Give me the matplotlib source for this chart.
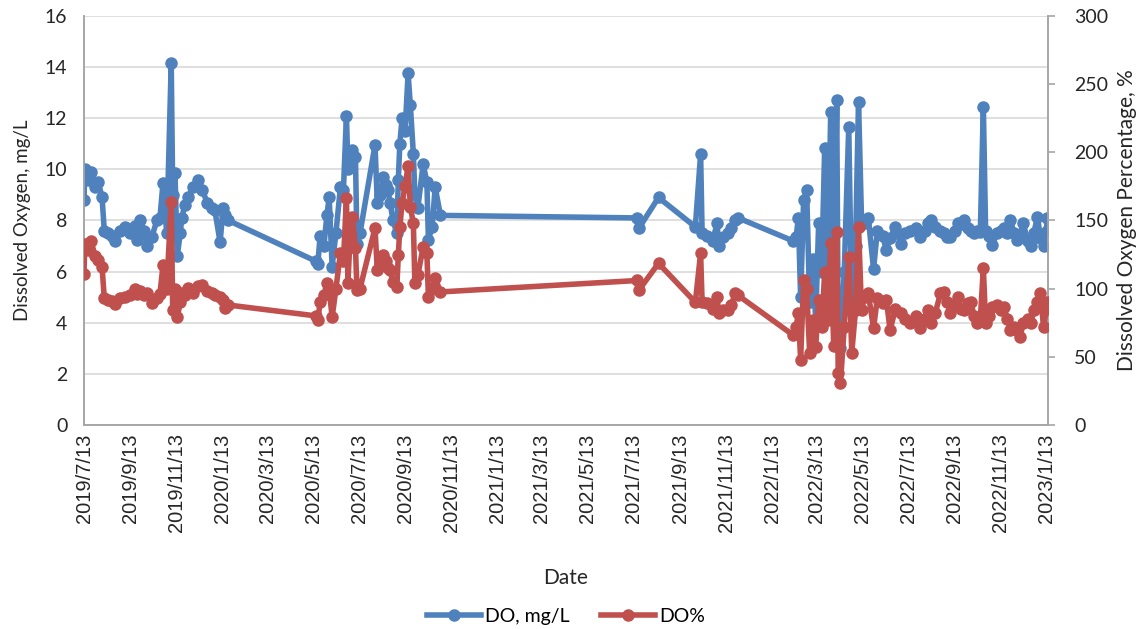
import datetime as dt
import matplotlib
matplotlib.use("Agg")
import matplotlib.pyplot as plt
import matplotlib.dates as mdates
from matplotlib.ticker import FuncFormatter
from matplotlib.lines import Line2D

# sampling dates and readings
dates = [
    "2019-07-13", "2019-07-14", "2019-07-18", "2019-07-22", "2019-07-28", "2019-08-01",
    "2019-08-06", "2019-08-09", "2019-08-14", "2019-08-19", "2019-08-23", "2019-08-30",
    "2019-09-06", "2019-09-12", "2019-09-19", "2019-09-21", "2019-09-25", "2019-10-01",
    "2019-10-05", "2019-10-11", "2019-10-18", "2019-10-22", "2019-10-26", "2019-10-31",
    "2019-11-06", "2019-11-08", "2019-11-11", "2019-11-14", "2019-11-18", "2019-11-20",
    "2019-11-24", "2019-11-28", "2019-12-05", "2019-12-12", "2019-12-17", "2019-12-24",
    "2019-12-30", "2020-01-03", "2020-01-10", "2020-01-14", "2020-01-17", "2020-01-21",
    "2020-05-17", "2020-05-19", "2020-05-22", "2020-05-27", "2020-05-31", "2020-06-03",
    "2020-06-07", "2020-06-12", "2020-06-18", "2020-06-22", "2020-06-26", "2020-06-28",
    "2020-07-01", "2020-07-04", "2020-07-08", "2020-07-10", "2020-07-14", "2020-08-03",
    "2020-08-06", "2020-08-10", "2020-08-14", "2020-08-18", "2020-08-20", "2020-08-23",
    "2020-08-27", "2020-09-01", "2020-09-03", "2020-09-05", "2020-09-08", "2020-09-12",
    "2020-09-16", "2020-09-19", "2020-09-23", "2020-09-25", "2020-09-29", "2020-10-06",
    "2020-10-11", "2020-10-13", "2020-10-18", "2020-10-22", "2020-10-29",
    "2021-07-18", "2021-07-20", "2021-08-15", "2021-10-03", "2021-10-10", "2021-10-12",
    "2021-10-19", "2021-10-26", "2021-11-01", "2021-11-03", "2021-11-09", "2021-11-16",
    "2021-11-20", "2021-11-25", "2021-11-29",
    "2022-02-10", "2022-02-14", "2022-02-17", "2022-02-20", "2022-02-24", "2022-02-28",
    "2022-03-04", "2022-03-08", "2022-03-12", "2022-03-16", "2022-03-20", "2022-03-24",
    "2022-03-28", "2022-04-01", "2022-04-05", "2022-04-09", "2022-04-11", "2022-04-14",
    "2022-04-19", "2022-04-25", "2022-04-29", "2022-05-04", "2022-05-08", "2022-05-12",
    "2022-05-16", "2022-05-21", "2022-05-28", "2022-06-02", "2022-06-09", "2022-06-14",
    "2022-06-19", "2022-06-26", "2022-07-03", "2022-07-09", "2022-07-16", "2022-07-23",
    "2022-07-29", "2022-08-04", "2022-08-08", "2022-08-13", "2022-08-18", "2022-08-25",
    "2022-08-30", "2022-09-03", "2022-09-07", "2022-09-13", "2022-09-17", "2022-09-21",
    "2022-09-25", "2022-09-30", "2022-10-04", "2022-10-09", "2022-10-13", "2022-10-17",
    "2022-10-21", "2022-10-24", "2022-10-29", "2022-11-02", "2022-11-08", "2022-11-13",
    "2022-11-17", "2022-11-22", "2022-11-26", "2022-12-01", "2022-12-05", "2022-12-09",
    "2022-12-13", "2022-12-19", "2022-12-23", "2022-12-27", "2023-01-01", "2023-01-05",
    "2023-01-09", "2023-01-13", "2023-01-14",
]

do_mgl = [
    8.8, 10.0, 9.6, 9.9, 9.3, 9.5,
    8.9, 7.6, 7.5, 7.4, 7.2, 7.6,
    7.75, 7.5, 7.8, 7.25, 8.0, 7.6,
    7.0, 7.35, 8.0, 8.1, 9.45, 7.5,
    14.15, 9.0, 9.85, 6.6, 7.5, 8.1,
    8.6, 8.9, 9.3, 9.6, 9.2, 8.7,
    8.5, 8.4, 7.15, 8.5, 8.2, 8.0,
    6.4, 6.3, 7.4, 7.0, 8.2, 8.9,
    6.2, 7.5, 9.3, 9.2, 12.1, 10.0,
    10.4, 10.75, 10.5, 7.1, 7.5, 10.95,
    8.7, 9.0, 9.7, 9.4, 9.2, 8.7,
    8.0, 7.5, 9.6, 11.0, 12.0, 11.5,
    13.75, 12.5, 10.6, 9.0, 8.5, 10.2,
    9.5, 7.25, 7.75, 9.3, 8.2,
    8.1, 7.7, 8.9, 7.75, 10.6, 7.5,
    7.4, 7.2, 7.9, 7.0, 7.35, 7.5,
    7.7, 8.0, 8.1,
    7.2, 7.35, 8.1, 5.0, 8.8, 9.2,
    4.8, 6.5, 4.1, 7.9, 6.0, 10.85,
    5.5, 12.25, 4.4, 12.7, 3.4, 3.0,
    6.0, 11.65, 4.5, 7.0, 12.65, 8.0,
    7.9, 8.1, 6.1, 7.6, 7.4, 6.85,
    7.3, 7.75, 7.1, 7.5, 7.6, 7.7,
    7.35, 7.6, 7.9, 8.0, 7.75, 7.6,
    7.5, 7.35, 7.35, 7.6, 7.9, 7.85,
    8.0, 7.7, 7.6, 7.5, 7.6, 7.55,
    12.45, 7.6, 7.4, 7.05, 7.5, 7.6,
    7.7, 7.5, 8.0, 7.5, 7.25, 7.45,
    7.9, 7.2, 7.0, 7.5, 8.15, 7.3,
    7.0, 7.6, 8.1,
]

do_pct = [
    111, 133, 128, 135, 124, 121,
    116, 93, 92, 91, 89, 93,
    94, 95, 100, 96, 98, 95,
    97, 89.5, 93, 96, 117, 100,
    163.6, 84, 100, 79, 90, 97,
    95, 100.5, 97, 102, 102.7, 98,
    97, 95, 94, 92, 86, 88,
    80, 77, 90, 95, 104, 100,
    79, 100, 126, 120, 166.5, 104,
    140, 152.6, 130, 99, 100, 144.5,
    114, 118, 124.7, 120, 115, 113.7,
    105, 101, 124.7, 145, 163, 175,
    190, 160, 148, 104, 110, 130.6,
    126, 94, 100, 108, 97.6,
    106, 99, 118.6, 90, 126, 90,
    89.5, 85, 94, 82, 84, 84,
    88, 97, 95,
    66, 72, 82, 48, 106, 100,
    53, 77, 57, 92, 72, 112,
    77, 133.5, 58, 141.6, 38, 31,
    72, 123, 53, 84, 145, 84,
    94, 96.5, 71, 93, 89.5, 91.7,
    69.7, 85, 82, 78, 75, 80,
    71, 78, 84, 75, 82, 96.5,
    97.6, 90, 82, 88, 94, 85,
    84, 89.5, 90, 80, 75, 78,
    115, 75, 80, 86.6, 88, 84,
    86.6, 78, 69.7, 72, 70, 64.6,
    75, 78, 75, 84, 90, 96.5,
    72, 85, 90,
]

x = [dt.datetime.strptime(d, "%Y-%m-%d") for d in dates]

blue = "#4F81BD"
red = "#C0504D"
grid_c = "#D9D9D9"
spine_c = "#A6A6A6"
text_c = "#262626"
lab_font = "Lato"

fig = plt.figure(figsize=(11.46, 6.29), dpi=100)
ax = fig.add_axes([0.0733, 0.3243, 0.8412, 0.6503])
ax2 = ax.twinx()

ax.plot(x, do_mgl, color=blue, lw=4, marker="o", ms=8, label="DO, mg/L", zorder=3)
ax2.plot(x, do_pct, color=red, lw=4, marker="o", ms=8, label="DO%", zorder=3)

ax.set_ylim(0, 16)
ax.set_yticks(range(0, 17, 2))
ax2.set_ylim(0, 300)
ax2.set_yticks(range(0, 301, 50))
ax.set_xlim(dt.datetime(2019, 7, 13), dt.datetime(2023, 1, 15))

ax.xaxis.set_major_locator(mdates.MonthLocator(bymonth=[1, 3, 5, 7, 9, 11], bymonthday=13))


def fmt_date(v, pos):
    d = mdates.num2date(v)
    return "{0}/{1}/{2}".format(d.year, d.month, d.day)


ax.xaxis.set_major_formatter(FuncFormatter(fmt_date))

ax.grid(axis="y", color=grid_c, lw=1.2)
ax.set_axisbelow(True)

for a in (ax, ax2):
    a.spines["top"].set_visible(False)
    for s in ("left", "right", "bottom"):
        a.spines[s].set_color(spine_c)
        a.spines[s].set_linewidth(1.2)

ax.tick_params(axis="y", length=0, pad=12, labelsize=14, labelcolor=text_c)
ax.tick_params(axis="x", length=0, pad=6, labelsize=14.5, labelcolor=text_c, labelrotation=90)
ax2.tick_params(axis="y", length=5, color=spine_c, width=1.2, pad=14, labelsize=14, labelcolor=text_c)

for lab in ax.get_yticklabels() + ax2.get_yticklabels():
    lab.set_fontfamily(lab_font)
for lab in ax.get_xticklabels():
    lab.set_fontfamily("Liberation Sans")

ax.set_ylabel("Dissolved Oxygen, mg/L", fontsize=13.5, family=lab_font, color=text_c, labelpad=10)
ax2.set_ylabel("Dissolved Oxygen Percentage, %", fontsize=15, family=lab_font, color=text_c, labelpad=6)
ax.set_xlabel("Date", fontsize=15, family=lab_font, color=text_c, labelpad=26)

handles = [
    Line2D([], [], color=blue, lw=4, marker="o", ms=8),
    Line2D([], [], color=red, lw=4, marker="o", ms=8),
]
fig.legend(handles, ["DO, mg/L", "DO%"], loc="center", bbox_to_anchor=(0.494, 0.02),
           ncol=2, frameon=False, handlelength=2.8, columnspacing=1.6, handletextpad=0.2,
           prop={"family": lab_font, "size": 14})

fig.savefig("out.png", dpi=100)
